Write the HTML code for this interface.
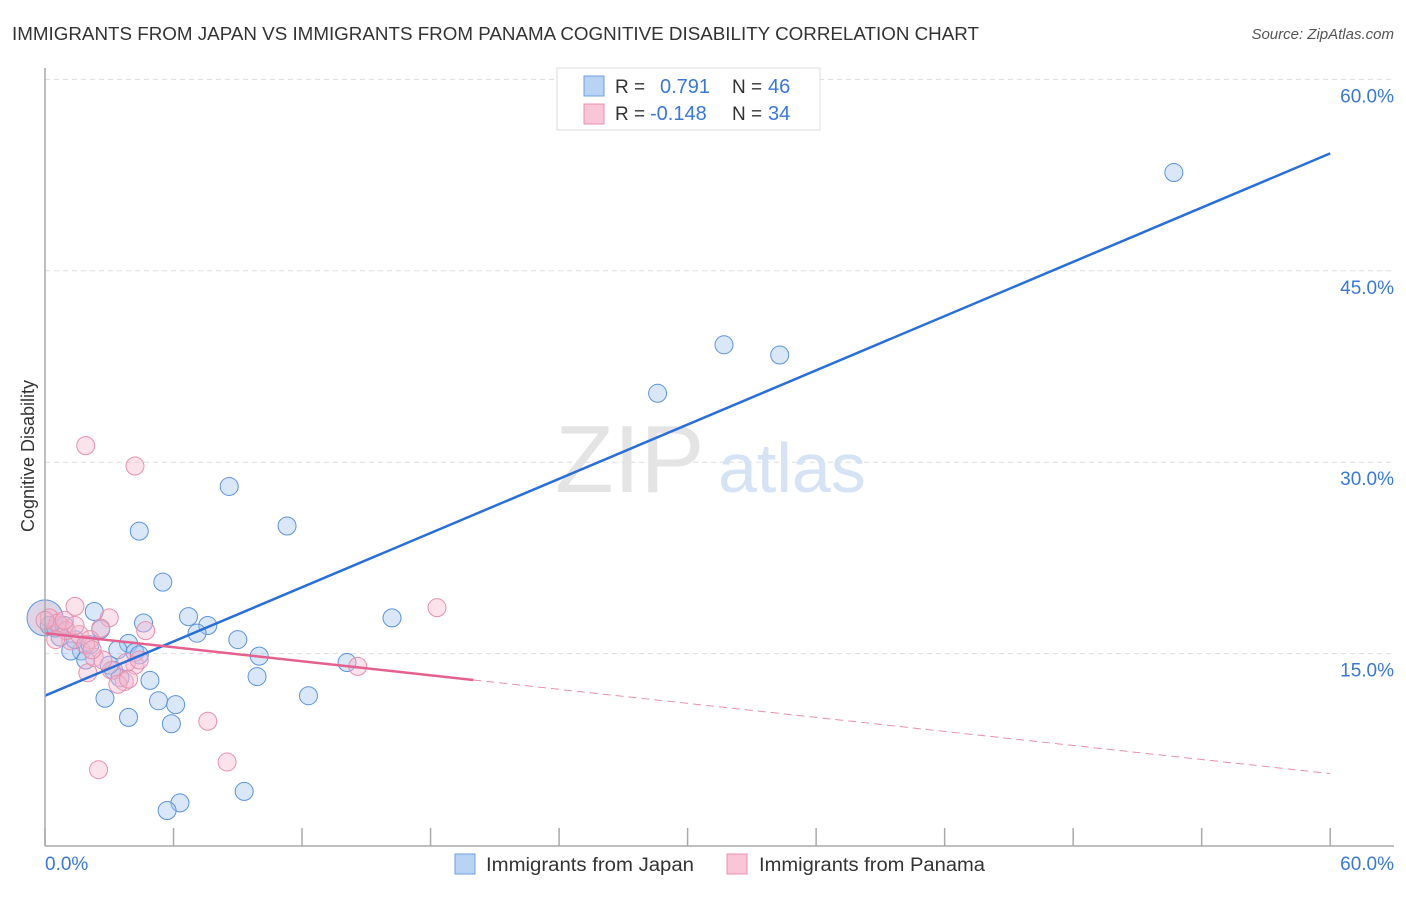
<!DOCTYPE html>
<html><head><meta charset="utf-8"><style>
body{margin:0;background:#fff;font-family:"Liberation Sans",sans-serif;}
svg text{font-family:"Liberation Sans",sans-serif;}
</style></head><body>
<svg id="chart" width="1406" height="892">
<text x="12" y="40" font-size="18" fill="#333" textLength="967" lengthAdjust="spacingAndGlyphs">IMMIGRANTS FROM JAPAN VS IMMIGRANTS FROM PANAMA COGNITIVE DISABILITY CORRELATION CHART</text>
<text x="1394" y="39" font-size="15" fill="#555" font-style="italic" text-anchor="end">Source: ZipAtlas.com</text>
<text transform="translate(34,456) rotate(-90)" font-size="18" fill="#333" text-anchor="middle">Cognitive Disability</text>
<g id="grid"></g>
<text x="555" y="492" font-size="96" fill="#e4e4e4" font-family="Liberation Serif">ZIP</text>
<text x="718" y="492" font-size="70" fill="#d5e3f5">atlas</text>
<g id="pts"></g>
<g id="lines"></g>
<line x1="45" y1="68" x2="45" y2="846" stroke="#aaa" stroke-width="1.5"/>
<line x1="45" y1="846" x2="1394" y2="846" stroke="#aaa" stroke-width="1.5"/>
<g id="xt"></g>
<text x="45" y="870" font-size="19" fill="#3a78d4">0.0%</text>
<text x="1394" y="870" font-size="19" fill="#3a78d4" text-anchor="end">60.0%</text>
<g>
<rect x="557" y="68" width="263" height="62" fill="#fff" stroke="#ddd"/>
<rect x="584" y="76" width="20" height="20" fill="#b9d3f4" stroke="#6d9ee0"/>
<rect x="584" y="104" width="20" height="20" fill="#f8c6d6" stroke="#e890ad"/>
<text x="615" y="93" font-size="19" fill="#333">R = </text><text x="660" y="93" font-size="20" fill="#3a78d4">0.791</text>
<text x="732" y="93" font-size="19" fill="#333">N = </text><text x="768" y="93" font-size="20" fill="#3a78d4">46</text>
<text x="615" y="120" font-size="19" fill="#333">R = </text><text x="650" y="120" font-size="20" fill="#3a78d4">-0.148</text>
<text x="732" y="120" font-size="19" fill="#333">N = </text><text x="768" y="120" font-size="20" fill="#3a78d4">34</text>
</g>
<g>
<rect x="455" y="854" width="20" height="20" fill="#b9d3f4" stroke="#6d9ee0"/>
<text x="486" y="871" font-size="19" fill="#333" textLength="208" lengthAdjust="spacingAndGlyphs">Immigrants from Japan</text>
<rect x="727" y="854" width="20" height="20" fill="#f8c6d6" stroke="#e890ad"/>
<text x="759" y="871" font-size="19" fill="#333" textLength="226" lengthAdjust="spacingAndGlyphs">Immigrants from Panama</text>
</g>
</svg>
<script>
const yTicks=[15,30,45,60];
const yTickLabels=["15.0%","30.0%","45.0%","60.0%"];
const xTicks=[0,6,12,18,24,30,36,42,48,54,60];
const japanX=[52.7,31.7,34.3,28.6,8.6,11.3,4.4,5.5,16.2,2.3,4.6,6.7,7.6,7.1,9.0,2.6,3.9,10.0,14.1,9.9,12.3,2.8,3.4,4.2,4.9,3.2,3.5,5.3,6.1,3.9,5.9,1.7,1.2,0.7,0.2,0.5,1.4,2.1,9.3,6.3,5.7,0,0.9,1.9,3.0,4.4];
const japanY=[52.7,39.2,38.4,35.4,28.1,25.0,24.6,20.6,17.8,18.3,17.4,17.9,17.2,16.6,16.1,16.9,15.8,14.8,14.3,13.2,11.7,11.5,15.3,15.1,12.9,13.7,13.1,11.3,11.0,10.0,9.5,15.2,15.2,16.3,17.2,17.0,16.1,15.7,4.2,3.3,2.7,17.8,17.2,14.5,14.1,14.9];
const panamaX=[1.9,4.2,18.3,1.4,3.0,2.6,4.7,14.6,7.6,8.5,2.5,3.7,3.1,2.0,4.2,3.8,2.3,1.2,0.7,0.2,0.6,1.0,1.6,2.1,3.4,2.7,4.4,1.4,1.9,0.9,0,0.5,2.2,3.9];
const panamaY=[31.3,29.7,18.6,18.7,17.8,17.0,16.8,14.0,9.7,6.5,5.9,12.8,13.7,13.5,14.1,14.3,14.7,16.0,17.2,17.8,17.4,16.8,16.5,16.1,12.6,14.5,14.5,17.2,15.7,17.6,17.6,16.1,15.3,13.0];
const japanFit=[11.7,54.2];
const panamaFit=[16.6,5.6];
const panamaSolidEnd=20;
const NS="http://www.w3.org/2000/svg";
const sx=v=>45+v*21.42, sy=v=>845-v*12.76;
function el(tag,attrs,parent){const e=document.createElementNS(NS,tag);for(const k in attrs)e.setAttribute(k,attrs[k]);parent.appendChild(e);return e;}
const grid=document.getElementById('grid');
yTicks.forEach((t,i)=>{
 const l=el('line',{x1:45,x2:1394,y1:sy(t),y2:sy(t),stroke:'#ddd','stroke-dasharray':'5,4'},grid);
 
 
 const tx=el('text',{x:1394,y:sy(t)+23,'font-size':19,fill:'#3a78d4','text-anchor':'end'},grid);
 tx.textContent=yTickLabels[i];
 
 
});
const xt=document.getElementById('xt');
xTicks.forEach(t=>{
 const l=el('line',{x1:sx(t),x2:sx(t),y1:828,y2:846,stroke:'#aaa','stroke-width':1.5},xt);
 
 
});
const pts=document.getElementById('pts');
japanX.forEach((x,i)=>{
 const big=(x===0);
 const c=el('circle',{cx:sx(x),cy:sy(japanY[i]),r:big?18:9,fill:big?'rgba(170,150,190,0.4)':'rgba(160,196,240,0.4)',stroke:'#5b93dd','stroke-width':1},pts);
 
 
});
panamaX.forEach((x,i)=>{
 const c=el('circle',{cx:sx(x),cy:sy(panamaY[i]),r:9,fill:'rgba(246,182,204,0.4)',stroke:'#e890ad','stroke-width':1},pts);
 
 
});
const lines=document.getElementById('lines');
const jl=el('line',{x1:sx(0),y1:sy(japanFit[0]),x2:sx(60),y2:sy(japanFit[1]),stroke:'#2a6fd6','stroke-width':2.5},lines);


const pAt=x=>panamaFit[0]+(panamaFit[1]-panamaFit[0])*x/60;
const pl=el('line',{x1:sx(0),y1:sy(pAt(0)),x2:sx(panamaSolidEnd),y2:sy(pAt(panamaSolidEnd)),stroke:'#e4608e','stroke-width':2.5},lines);


const pd=el('line',{x1:sx(panamaSolidEnd),y1:sy(pAt(panamaSolidEnd)),x2:sx(60),y2:sy(pAt(60)),stroke:'#e890ad','stroke-width':1,'stroke-dasharray':'8,5'},lines);


</script>
</body></html>
